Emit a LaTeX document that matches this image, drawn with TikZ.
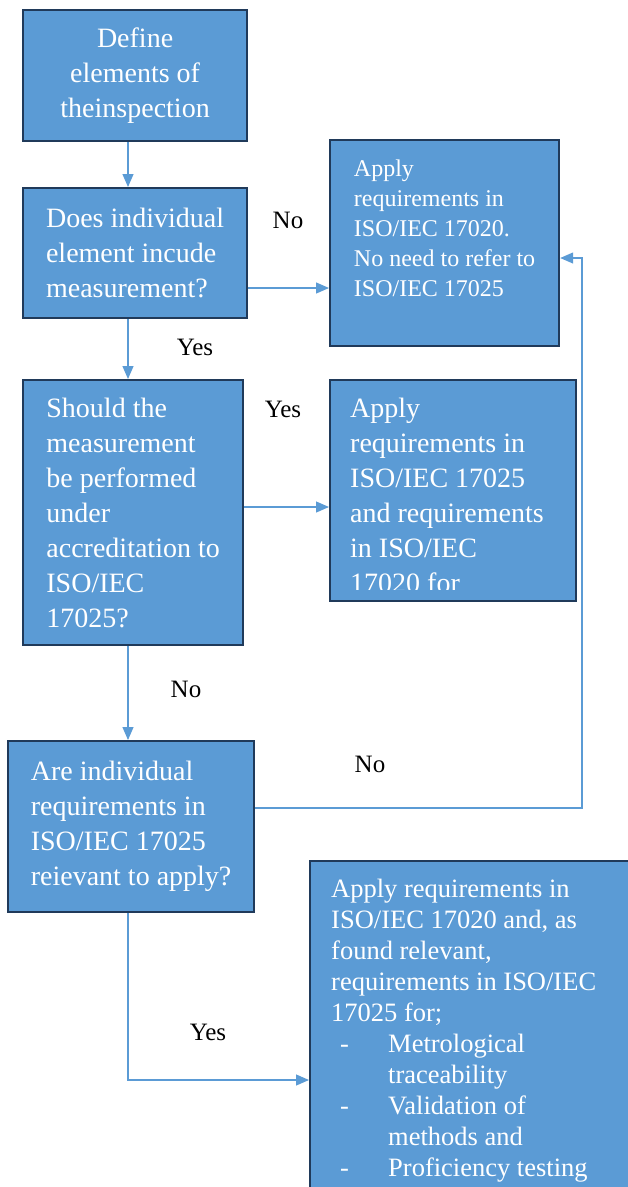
\documentclass[tikz,border=0pt]{standalone}
\usepackage{fontspec}
\setmainfont{Liberation Serif}
\usetikzlibrary{arrows.meta}
\definecolor{boxblue}{HTML}{5B9BD5}
\definecolor{boxedge}{HTML}{203A5A}

\begin{document}
\begin{tikzpicture}[x=1pt,y=-1pt,
  box/.style={draw=boxedge,line width=2.2pt,fill=boxblue,text=white,inner sep=0pt,anchor=north west,align=left,font=\fontsize{28}{35}\selectfont},
  boxtext/.style={text=white,inner sep=0pt,anchor=north west,align=left},
  conn/.style={color=boxblue,line width=1.2pt,-{Triangle[length=13pt,width=11pt]}},
  lbl/.style={anchor=base,inner sep=0pt,font=\fontsize{25}{30}\selectfont}]
\useasboundingbox (0,0) rectangle (628,1187);
\clip (0,0) rectangle (628,1187);

\node[box,align=center,minimum width=224pt,minimum height=131pt] (define) at (22,9) {Define\\elements of\\theinspection};
\node[box,minimum width=224pt,minimum height=130pt] (measure) at (22,187) {Does individual\\element incude\\measurement?};
\node[box,minimum width=229pt,minimum height=206pt,font=\fontsize{24}{30}\selectfont] (apply20) at (329,139) {Apply\\requirements in\\ISO/IEC 17020.\\No need to refer to\\ISO/IEC 17025\\\mbox{}};
\node[box,minimum width=220pt,minimum height=265pt] (accred) at (22,379) {Should the\\measurement\\be performed\\under\\accreditation to\\ISO/IEC\\17025?};
\node[box,minimum width=246pt,minimum height=221pt] (apply25) at (329,379) {};
\node[box,minimum width=246pt,minimum height=171pt] (relevant) at (7,740) {Are individual\\requirements in\\ISO/IEC 17025\\reievant to apply?};
\node[box,minimum width=340pt,minimum height=360pt] (applyall) at (309,860) {};

% texts that run past their boxes
\begin{scope}
\clip (330,380) rectangle (574,589);
\node[boxtext,font=\fontsize{28}{35}\selectfont] (apply25t) at (350,397.5) {Apply\\requirements in\\ISO/IEC 17025\\and requirements\\in ISO/IEC\\17020 for};
\end{scope}
\node[boxtext,font=\fontsize{26.5}{31}\selectfont] (applyallt) at (331,879) {Apply requirements in\\ISO/IEC 17020 and, as\\found relevant,\\requirements in ISO/IEC\\17025 for;\\\makebox[57pt][l]{\hspace{9pt}-}Metrological\\\hspace*{57pt}traceability\\\makebox[57pt][l]{\hspace{9pt}-}Validation of\\\hspace*{57pt}methods and\\\makebox[57pt][l]{\hspace{9pt}-}Proficiency testing};

\coordinate (spine) at (128,0);
\coordinate (side) at (582,0);
\coordinate (noy) at (0,288);
\coordinate (yesy) at (0,507);
\coordinate (backy) at (0,808);
\coordinate (inty) at (0,258);
\coordinate (lasty) at (0,1080);

\draw [conn] (define.south -| spine)--(measure.north -| spine);
\draw [conn] (measure.east |- noy)--(apply20.west |- noy);
\draw [conn] (measure.south -| spine)--(accred.north -| spine);
\draw [conn] (accred.east |- yesy)--(apply25.west |- yesy);
\draw [conn] (accred.south -| spine)--(relevant.north -| spine);
\draw [conn] (relevant.east |- backy)--(side |- backy)--(side |- inty)--(apply20.east |- inty);
\draw [conn] (relevant.south -| spine)--(spine |- lasty)--(applyall.west |- lasty);

\node[lbl] (no1) at (288,228) {No};
\node[lbl] (yes1) at (195,355) {Yes};
\node[lbl] (yes2) at (283,417) {Yes};
\node[lbl] (no2) at (186,697) {No};
\node[lbl] (no3) at (370,772) {No};
\node[lbl] (yes3) at (208,1040) {Yes};
\end{tikzpicture}
\end{document}
